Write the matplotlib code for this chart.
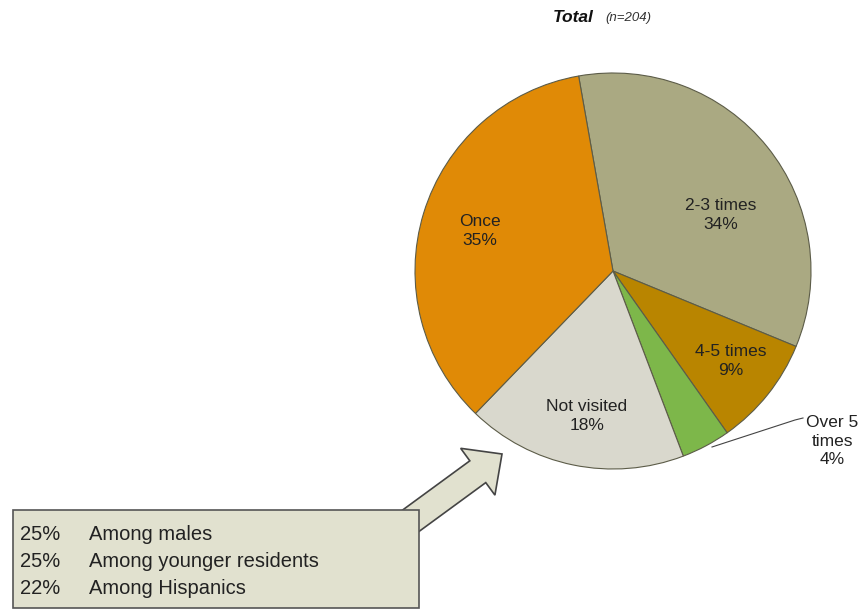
import matplotlib
matplotlib.use('Agg')
import matplotlib.pyplot as plt
from matplotlib.patches import Rectangle, FancyArrow

plt.rcParams['font.family'] = ['Liberation Sans', 'DejaVu Sans']

# Pie data (clockwise from top)
categories = ['2-3 times', '4-5 times', 'Over 5 times', 'Not visited', 'Once']
shares = [34, 9, 4, 18, 35]
colors = ['#aaa982', '#b98500', '#7db74a', '#d9d8cd', '#e08a06']

# callout text
callout_pcts = ['25%', '25%', '22%']
callout_groups = ['Among males', 'Among younger residents', 'Among Hispanics']

W, H = 864, 609
fig = plt.figure(figsize=(W / 100, H / 100), dpi=100)
ax = fig.add_axes([0, 0, 1, 1])

cx, cy, R = 613, H - 271, 198
wedges, _ = ax.pie(shares, colors=colors, startangle=100, counterclock=False,
                   radius=R, center=(cx, cy),
                   wedgeprops=dict(edgecolor='#5c5c48', linewidth=0.8))
ax.set_xlim(0, W)
ax.set_ylim(0, H)
ax.set_aspect('equal')
ax.axis('off')

lab_kw = dict(ha='center', va='center', fontsize=12.5, color='#222222', linespacing=1.3)
ax.text(480, H - 231, 'Once\n35%', **lab_kw)
ax.text(721, H - 215, '2-3 times\n34%', **lab_kw)
ax.text(731, H - 361, '4-5 times\n9%', **lab_kw)
ax.text(587, H - 416, 'Not visited\n18%', **lab_kw)
ax.text(832, H - 441, 'Over 5\ntimes\n4%', **lab_kw)
ax.plot([712, 795, 803], [H - 447, H - 420, H - 418], color='#444444', lw=0.8)

# title
ax.text(594, H - 18, 'Total', ha='right', va='center', fontsize=12.5,
        fontweight='bold', fontstyle='italic', color='#111111')
ax.text(605, H - 18, '(n=204)', ha='left', va='center', fontsize=9.5,
        fontstyle='italic', color='#333333')

# callout arrow
ax.add_patch(FancyArrow(405, H - 525, 97, 71, width=27, head_width=58,
                        head_length=30, length_includes_head=True,
                        facecolor='#e1e1cf', edgecolor='#444444', lw=1.2, zorder=3))

# callout box
ax.add_patch(Rectangle((13, H - 608), 406, 98, facecolor='#e1e1cf',
                       edgecolor='#555555', lw=1.2, zorder=4))
for i, (p, g) in enumerate(zip(callout_pcts, callout_groups)):
    y = H - (534 + i * 27.5)
    ax.text(20, y, p, ha='left', va='center', fontsize=14.5, color='#222222', zorder=5)
    ax.text(89, y, g, ha='left', va='center', fontsize=14.5, color='#222222', zorder=5)

fig.savefig('out.png', dpi=100)
